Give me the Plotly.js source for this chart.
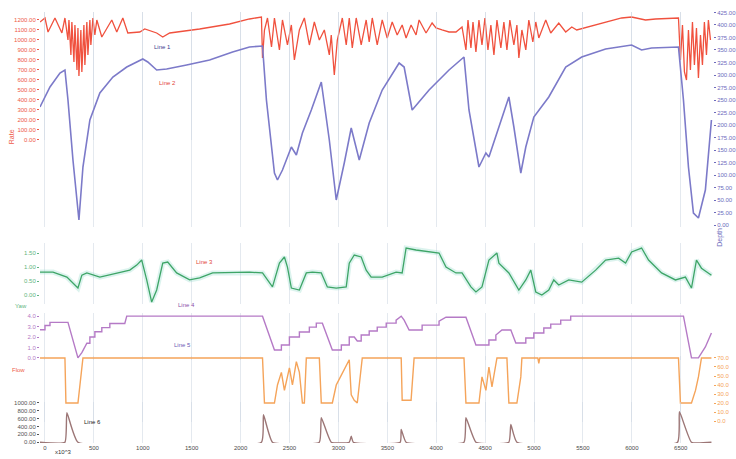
<!DOCTYPE html>
<html><head><meta charset="utf-8">
<script src="https://cdn.plot.ly/plotly-3.0.1.min.js"></script>
<style>html,body{margin:0;padding:0;background:#fff}#chart{width:736px;height:459px}</style>
</head><body><div id="chart"></div>
<script>
// Line 1 (red, left axis)
const line1X = [-51,0,31,102,173,204,235,245,265,275,296,306,327,337,347,367,377,398,408,428,439,459,469,490,510,530,581,683,734,796,847,969,1020,1071,1142,1204,1275,1581,1887,2091,2213,
 2224,2244,2275,2316,2346,2397,2428,2479,2519,2550,2601,2652,2703,2754,2805,2856,2907,2927,2958,2989,3040,3080,3111,3142,3182,3233,3284,3315,3346,3397,3448,3499,3550,3601,3652,3692,3743,3794,
 3825,3896,3958,3998,4060,4131,4202,4264,
 4304,4325,4355,4376,4406,4437,4468,4498,4529,4559,4590,4621,4661,4692,4723,4753,4794,4825,4845,4876,4916,4947,4988,5018,5049,
 5120,5171,5253,5324,5386,5437,5559,5732,5896,5998,6140,6242,6477,
 6497,6518,6538,6559,6579,6599,6620,6640,6661,6681,6702,6722,6742,6763,6783,6804];
const line1Y = [1180,1220,1080,1220,1070,1220,1000,1200,850,1180,780,1150,700,1120,640,1100,680,1150,750,1180,850,1200,950,1220,1050,1200,1030,1200,1080,1220,1070,1080,1110,1090,1070,1030,1070,1110,1160,1210,1230,
 820,1100,1220,930,1220,900,1200,950,1150,800,1100,1220,950,1180,1000,1100,850,1050,650,1000,1220,950,1220,920,1220,950,1200,980,1220,950,1200,1020,1180,1050,1150,1020,1150,1050,
 1200,1070,1170,1120,1100,1080,1080,1130,
 900,1200,920,1180,880,1200,950,1220,900,1150,850,1200,920,1180,900,1200,950,1150,820,1100,900,1200,980,1180,1020,
 1200,1070,1170,1080,1130,1100,1130,1180,1220,1230,1200,1210,1220,
 800,1150,680,600,1100,700,1180,750,1120,620,1050,750,1180,850,1200,1000];

// Line 2 (blue, right axis)
const line2X = [-51,51,153,204,235,286,347,388,459,561,694,836,1000,1051,1142,1244,1448,1683,1918,2091,2224,2264,2346,2377,2428,2519,2570,2632,2723,2825,2907,2978,3060,3131,3213,3315,3448,3621,3672,3754,3927,4131,4284,4335,4437,4508,4539,4641,4743,4794,4865,4916,4998,5151,5324,5488,5732,5998,6100,6202,6477,6528,6579,6630,6681,6752,6814];
const line2Y = [236,276,304,310,250,130,10,116,210,264,296,316,332,326,310,312,320,330,346,356,358,250,104,90,110,156,140,184,230,286,170,50,124,194,130,204,270,324,316,230,270,310,336,230,116,144,136,196,256,196,104,156,216,256,316,336,352,360,350,354,356,250,116,24,14,70,210];

// Line 3 (green)
const line3X = [-51,82,224,286,337,377,428,561,734,867,938,989,1040,1091,1142,1204,1255,1346,1479,1581,1714,2091,2224,2326,2397,2448,2479,2519,2601,2672,2734,2825,2887,2978,3080,3111,3162,3233,3284,3335,3448,3590,3652,3692,3794,3958,4029,4100,4202,4264,4355,4406,4468,4539,4621,4641,4743,4845,4916,4967,5018,5080,5151,5202,5253,5355,5488,5630,5732,5865,5936,5998,6100,6171,6304,6446,6548,6610,6661,6712,6783,6814];
const line3Y = [0.82,0.82,0.64,0.43,0.25,0.71,0.79,0.64,0.79,0.89,1.07,1.25,0.54,-0.25,0.18,1.14,1.18,0.79,0.54,0.61,0.79,0.82,0.79,0.29,1.14,1.36,1.00,0.25,0.18,0.79,0.82,0.79,0.29,0.25,0.29,1.14,1.43,1.36,0.89,0.64,0.64,0.82,0.79,1.68,1.61,1.54,1.50,1.00,0.79,0.79,0.29,0.11,0.29,1.25,1.50,1.14,0.79,0.18,0.54,0.89,0.11,0.00,0.18,0.54,0.36,0.54,0.46,0.89,1.25,1.32,1.14,1.54,1.68,1.25,0.79,0.54,0.64,0.25,1.25,0.96,0.79,0.71];

// Line 4 (purple steps)
const line4X = [-51,0,0,51,51,235,337,377,428,459,459,510,510,581,581,663,663,816,836,2224,2346,2417,2417,2499,2499,2601,2601,2703,2703,2774,2774,2836,2938,3030,3030,3111,3111,3162,3193,3233,3233,3315,3315,3397,3397,3489,3489,3590,3590,3642,3672,3723,3856,3856,4029,4029,4100,4304,4406,4539,4539,4610,4610,4672,4763,4814,4916,4916,4998,4998,5100,5100,5171,5171,5273,5273,5375,5375,6528,6610,6681,6752,6814];
const line4Y = [2.7,2.7,3.1,3.1,3.4,3.4,0.0,0.5,1.4,1.4,2.0,2.0,2.5,2.5,2.9,2.9,3.3,3.3,4.0,4.0,0.76,0.76,1.24,1.24,2.0,2.0,2.48,2.48,2.95,2.95,3.33,3.33,0.76,0.76,1.24,1.24,2.0,2.0,1.62,1.62,2.19,2.19,2.57,2.57,2.95,2.95,3.33,3.33,3.62,4.0,3.62,2.67,2.67,3.14,3.14,3.52,3.9,3.9,1.24,1.24,1.71,1.71,2.19,2.67,2.67,1.43,1.43,1.9,1.9,2.38,2.38,2.86,2.86,3.24,3.24,3.62,3.62,4.0,4.0,0.0,0.0,1.05,2.38];

// Line 5 (orange)
const line5X = [-51,204,214,337,388,2224,2244,2346,2377,2417,2448,2499,2530,2570,2601,2632,2652,2672,2805,2825,2938,2978,3030,3060,3111,3131,3162,3193,3244,3642,3652,3743,3774,4284,4304,4437,4468,4508,4539,4570,4621,4723,4743,4825,4865,4876,5039,5049,5059,6477,6497,6610,6651,6681,6712,6814];
const line5Y = [70,70,20,20,70,70,20,20,40,54,34,59,40,66,54,20,20,70,70,20,20,40,51,57,68,29,23,20,70,70,23,23,70,70,20,20,49,34,60,38,70,70,20,20,49,70,70,64,70,70,20,20,34,49,70,70];

// Line 6 (brown)
const line6X = [-51,204,224,337,2213,2234,2326,2805,2825,2927,3111,3131,3152,3632,3642,3692,4284,4304,4406,4743,4763,4825,6467,6487,6610,6814];
const line6Y = [0,0,750,0,0,700,0,0,625,0,0,150,0,0,325,0,0,625,0,0,450,0,0,775,0,0];

const tf = (c) => ({size: 6, color: c, family: 'Liberation Sans, Arial, sans-serif'});
const traces = [
  {x: line2X, y: line2Y, yaxis: 'y2', type: 'scatter', mode: 'lines', line: {color: '#7c7ac9', width: 1.6}, name: 'Line 2'},
  {x: line1X, y: line1Y, yaxis: 'y', type: 'scatter', mode: 'lines', line: {color: '#f0513e', width: 1.3}, name: 'Line 1'},
  {x: line3X, y: line3Y, yaxis: 'y3', type: 'scatter', mode: 'lines', line: {color: 'rgba(140,215,200,0.3)', width: 5}, hoverinfo: 'skip'},
  {x: line3X, y: line3Y, yaxis: 'y3', type: 'scatter', mode: 'lines', line: {color: '#3ea567', width: 1.3}, name: 'Line 3'},
  {x: line4X, y: line4Y, yaxis: 'y4', type: 'scatter', mode: 'lines', line: {color: '#b57ac6', width: 1.4}, name: 'Line 4'},
  {x: line5X, y: line5Y, yaxis: 'y5', type: 'scatter', mode: 'lines', line: {color: '#f5a45a', width: 1.4}, name: 'Line 5'},
  {x: line6X, y: line6Y, yaxis: 'y6', type: 'scatter', mode: 'lines', line: {color: '#9c7676', width: 1.4, shape: 'spline', smoothing: 0.4}, name: 'Line 6'}
];

const yb = {showgrid: false, zeroline: false, showline: false, ticks: 'outside', ticklen: 2, anchor: 'x', fixedrange: true};
const layout = {
  width: 736, height: 459,
  margin: {l: 40, r: 23, t: 10, b: 16},
  paper_bgcolor: '#ffffff', plot_bgcolor: 'rgba(0,0,0,0)',
  showlegend: false,
  font: {family: 'Liberation Sans, Arial, sans-serif', size: 6},
  xaxis: {domain: [0, 1], range: [-51, 6830], anchor: 'free', position: 0, tick0: 0, dtick: 500,
          showgrid: true, gridcolor: 'rgba(205,215,225,0.55)', gridwidth: 1, zeroline: false, showline: false,
          ticks: '', tickfont: tf('#4a4a4a')},
  yaxis: Object.assign({}, yb, {domain: [0.6998, 0.9954], range: [0, 1280], dtick: 100, tickformat: '.2f', tickfont: tf('#ee5a48'), tickcolor: '#ee5a48'}),
  yaxis2: Object.assign({}, yb, {domain: [0.4988, 0.9954], range: [-4, 426], side: 'right', dtick: 25, tickformat: '.2f', tickfont: tf('#6d6bbd'), tickcolor: '#6d6bbd'}),
  yaxis3: Object.assign({}, yb, {domain: [0.321, 0.4619], range: [-0.32, 1.86], dtick: 0.5, tickformat: '.2f', tickfont: tf('#62b580'), tickcolor: '#62b580'}),
  yaxis4: Object.assign({}, yb, {domain: [0.1917, 0.3002], range: [-0.2, 4.3], dtick: 1, tickformat: '.1f', tickfont: tf('#b57ac6'), tickcolor: '#b57ac6'}),
  yaxis5: Object.assign({}, yb, {domain: [0.0485, 0.2009], range: [-1.1, 72.2], side: 'right', dtick: 10, tickformat: '.1f', tickfont: tf('#f5a45a'), tickcolor: '#f5a45a'}),
  yaxis6: Object.assign({}, yb, {domain: [0, 0.0947], range: [-20, 1025], dtick: 200, tickformat: '.2f', tickfont: tf('#555555'), tickcolor: '#555555'}),
  annotations: [
    {text: 'Line 1', x: 1204, y: 0.9262, xref: 'x', yref: 'paper', showarrow: false, font: {size: 6, color: '#3b3b8f'}},
    {text: 'Line 2', x: 1255, y: 0.8430, xref: 'x', yref: 'paper', showarrow: false, font: {size: 6, color: '#e2453a'}},
    {text: 'Line 3', x: 1632, y: 0.4180, xref: 'x', yref: 'paper', showarrow: false, font: {size: 6, color: '#e2453a'}},
    {text: 'Line 4', x: 1448, y: 0.3070, xref: 'x', yref: 'paper', showarrow: false, font: {size: 6, color: '#8a4fa8'}},
    {text: 'Line 5', x: 1408, y: 0.2150, xref: 'x', yref: 'paper', showarrow: false, font: {size: 6, color: '#6a5ab5'}},
    {text: 'Line 6', x: 490, y: 0.0370, xref: 'x', yref: 'paper', showarrow: false, font: {size: 6, color: '#222222'}},
    {text: 'Rate', x: -0.05, y: 0.73, xref: 'paper', yref: 'paper', showarrow: false, textangle: -90, font: {size: 7, color: '#ee5a48'}},
    {text: 'Depth', x: 1.02, y: 0.475, xref: 'paper', yref: 'paper', showarrow: false, textangle: -90, font: {size: 7, color: '#6d6bbd'}},
    {text: 'Yaw', x: -0.04, y: 0.305, xref: 'paper', yref: 'paper', showarrow: false, font: {size: 6, color: '#62b580'}},
    {text: 'Flow', x: -0.045, y: 0.157, xref: 'paper', yref: 'paper', showarrow: false, font: {size: 6, color: '#ee5a48'}},
    {text: 'x10^3', x: 0.02, y: -0.033, xref: 'paper', yref: 'paper', showarrow: false, xanchor: 'left', font: {size: 6, color: '#333333'}}
  ]
};
Plotly.newPlot('chart', traces, layout, {staticPlot: true, displayModeBar: false});
</script></body></html>
